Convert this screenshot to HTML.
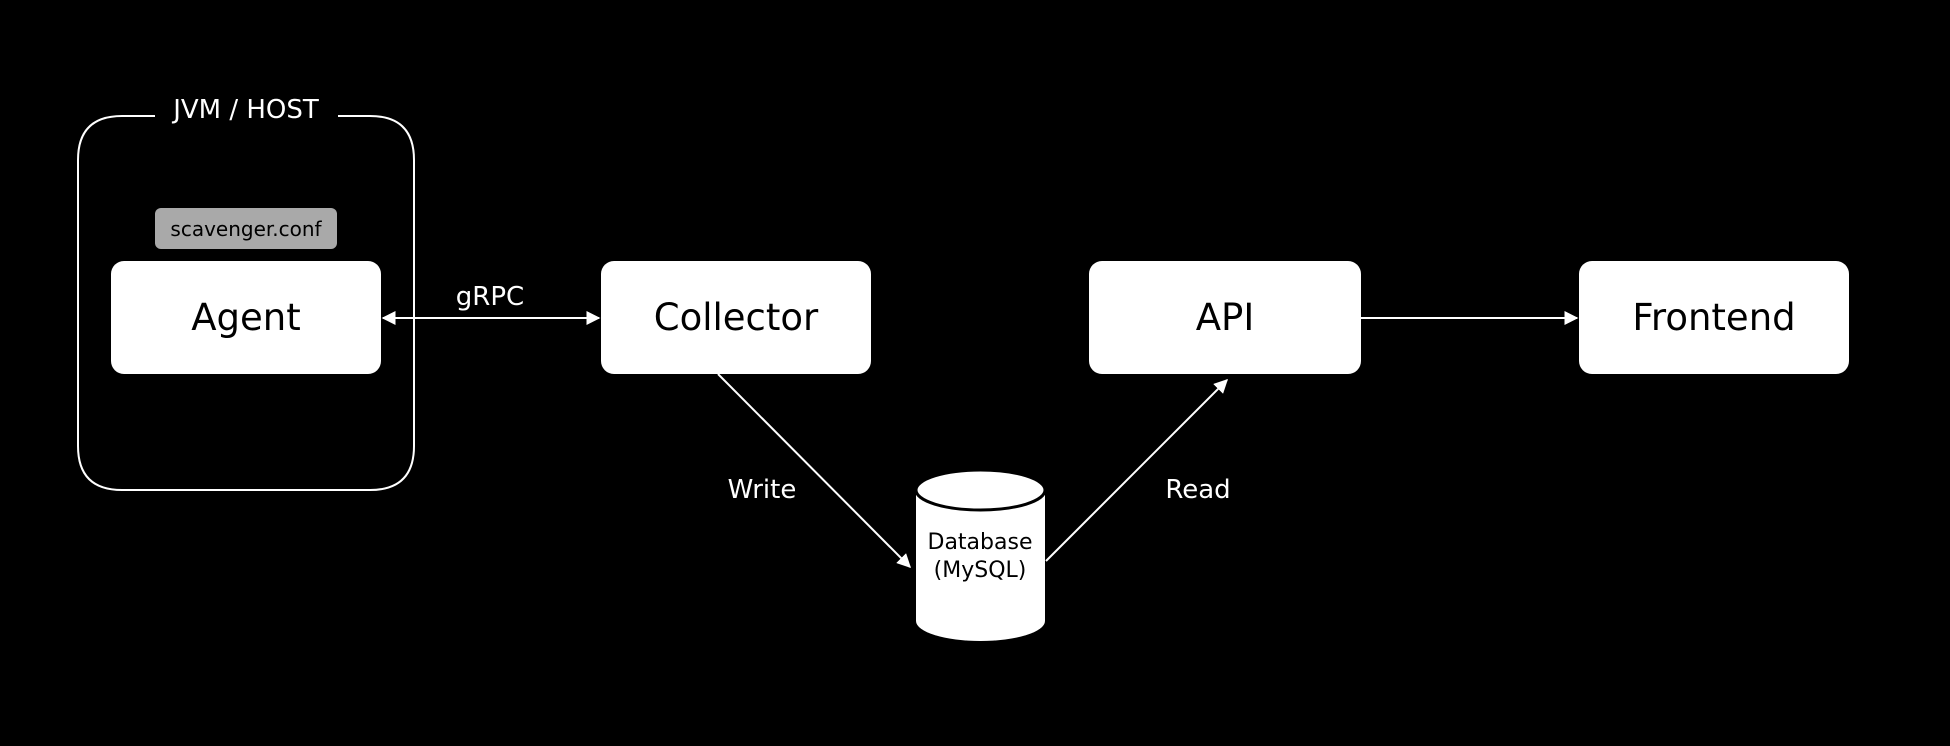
<!DOCTYPE html>
<html><head><meta charset="utf-8"><style>
html,body{margin:0;padding:0;background:#000;}
svg{display:block;}
text{font-family:"DejaVu Sans","Liberation Sans",sans-serif;fill:#fff;}
</style></head><body>
<svg width="1950" height="746" viewBox="0 0 1950 746" xmlns="http://www.w3.org/2000/svg">
<defs>
<marker id="a" viewBox="0 0 10 10" refX="9" refY="5" markerWidth="7" markerHeight="7" orient="auto-start-reverse"><path d="M0,0 L10,5 L0,10 z" fill="#fff"/></marker>
</defs>
<rect width="1950" height="746" fill="#000"/>
<!-- host group -->
<path d="M155,116 L122,116 Q78,116 78,160 L78,446 Q78,490 122,490 L370,490 Q414,490 414,446 L414,160 Q414,116 370,116 L338,116" fill="none" stroke="#fff" stroke-width="2"/>
<text x="246" y="118" font-size="26" text-anchor="middle">JVM / HOST</text>
<rect x="155" y="208" width="182" height="41" rx="6" fill="#a9a9a9"/>
<text x="246" y="236" font-size="20" text-anchor="middle" style="fill:#000">scavenger.conf</text>
<!-- boxes -->
<rect x="111" y="261" width="270" height="113" rx="13" fill="#fff"/>
<text x="246" y="330" font-size="37" text-anchor="middle" style="fill:#000">Agent</text>
<rect x="601" y="261" width="270" height="113" rx="13" fill="#fff"/>
<text x="736" y="330" font-size="37" text-anchor="middle" style="fill:#000">Collector</text>
<rect x="1089" y="261" width="272" height="113" rx="13" fill="#fff"/>
<text x="1225" y="330" font-size="37" text-anchor="middle" style="fill:#000">API</text>
<rect x="1579" y="261" width="270" height="113" rx="13" fill="#fff"/>
<text x="1714" y="330" font-size="37" text-anchor="middle" style="fill:#000">Frontend</text>
<!-- connectors -->
<line x1="383" y1="318" x2="599" y2="318" stroke="#fff" stroke-width="2" marker-start="url(#a)" marker-end="url(#a)"/>
<text x="490" y="305" font-size="26" text-anchor="middle">gRPC</text>
<line x1="1361" y1="318" x2="1577" y2="318" stroke="#fff" stroke-width="2" marker-end="url(#a)"/>
<line x1="718" y1="374" x2="910" y2="567" stroke="#fff" stroke-width="2" marker-end="url(#a)"/>
<text x="762" y="498" font-size="26" text-anchor="middle">Write</text>
<line x1="1046" y1="561" x2="1227" y2="380" stroke="#fff" stroke-width="2" marker-end="url(#a)"/>
<text x="1198" y="498" font-size="26" text-anchor="middle">Read</text>
<!-- cylinder -->
<path d="M916,490 L916,621 A64.5,20 0 0 0 1045,621 L1045,490 Z" fill="#fff"/>
<ellipse cx="980.5" cy="490" rx="64.5" ry="20" fill="#fff" stroke="#000" stroke-width="3"/>
<text x="980" y="549" font-size="22" text-anchor="middle" style="fill:#000">Database</text>
<text x="980" y="577" font-size="22" text-anchor="middle" style="fill:#000">(MySQL)</text>
</svg>
</body></html>
